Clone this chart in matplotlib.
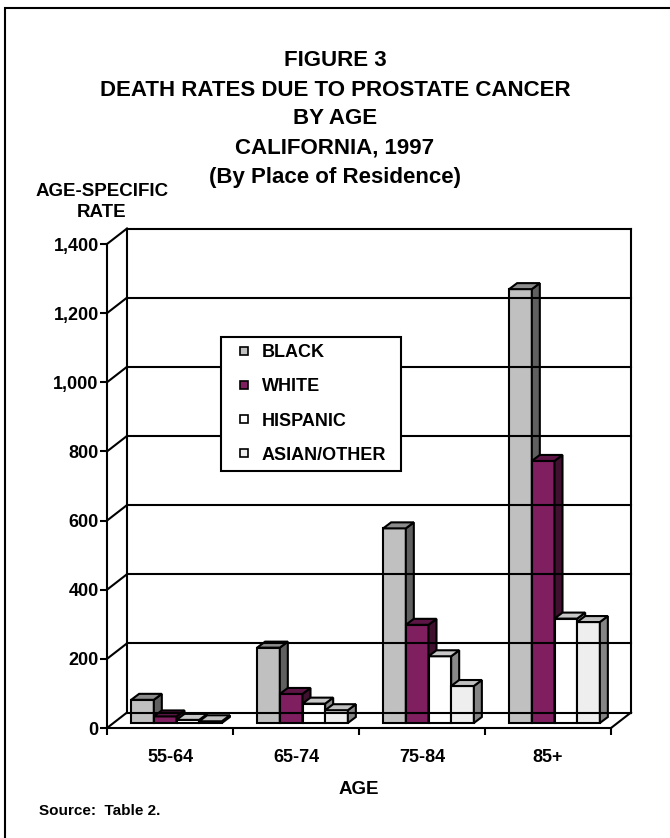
import matplotlib
matplotlib.use('Agg')
import matplotlib.pyplot as plt
from matplotlib.patches import Polygon, Rectangle
from matplotlib.lines import Line2D
from matplotlib.transforms import IdentityTransform, Affine2D

plt.rcParams['font.family'] = ['Liberation Sans', 'DejaVu Sans']
plt.rcParams['font.weight'] = 'bold'

# data
ages = ['55-64', '65-74', '75-84', '85+']
groups = ['BLACK', 'WHITE', 'HISPANIC', 'ASIAN/OTHER']
black = [67, 218, 563, 1255]
white = [19, 84, 284, 758]
hispanic = [9, 56, 193, 302]
asian_other = [5, 37, 107, 292]
yticks = [0, 200, 400, 600, 800, 1000, 1200, 1400]
title_lines = ['FIGURE 3', 'DEATH RATES DUE TO PROSTATE CANCER', 'BY AGE',
               'CALIFORNIA, 1997', '(By Place of Residence)']

series = [black, white, hispanic, asian_other]
face = ['#c0c0c0', '#7f1f5f', '#ffffff', '#eeeeee']
top = ['#8c8c8c', '#5c1545', '#c8c8c8', '#c0c0c0']
side = ['#606060', '#40102f', '#8a8a8a', '#858585']

W, H = 670, 838
fig = plt.figure(figsize=(W / 100, H / 100), dpi=100)
ax = fig.add_axes([107 / W, 110 / H, 504 / W, 484 / H])
ax.set_xlim(0, 4)
ax.set_ylim(0, 1400)
ax.set_autoscale_on(False)
ax.patch.set_visible(False)
for s in ['top', 'right']:
    ax.spines[s].set_visible(False)
for s in ['left', 'bottom']:
    ax.spines[s].set_linewidth(1.5)

ax.set_yticks(yticks)
ax.set_yticklabels([f'{v:,}' for v in yticks])
ax.tick_params(axis='y', length=5, width=1.5, pad=1, labelsize=13)
ax.set_xticks(range(5))
ax.set_xticklabels([])
ax.set_xticks([i + 0.5 for i in range(4)], minor=True)
ax.set_xticklabels(ages, minor=True)
ax.tick_params(axis='x', which='major', length=5, width=1.5)
ax.tick_params(axis='x', which='minor', length=0, pad=15, labelsize=13)
ax.set_xlabel('AGE', fontsize=13.5, fontweight='bold', labelpad=11)

# pixel offsets for the fake 3d depth
DX, DY = 20, 15.5   # floor depth
BX, BY = 6.5, 5     # bar front plane
PX, PY = 8, 6       # bar depth
w = 0.18


def pt(x, v, ox=0, oy=0):
    X, Y = ax.transData.transform((x, v))
    return (X + ox, Y + oy)


def seg(a, b):
    ax.add_line(Line2D([a[0], b[0]], [a[1], b[1]], transform=IdentityTransform(),
                       color='black', lw=1.5, clip_on=False, solid_capstyle='projecting'))


# walls and gridlines
for v in yticks:
    seg(pt(0, v, DX, DY), pt(4, v, DX, DY))
    seg(pt(0, v), pt(0, v, DX, DY))
seg(pt(0, 0, DX, DY), pt(0, 1400, DX, DY))
seg(pt(4, 0, DX, DY), pt(4, 1400, DX, DY))
seg(pt(4, 0), pt(4, 0, DX, DY))

# bars, left to right
shift = Affine2D().translate(BX, BY)
for i in range(4):
    for j in range(4):
        v = series[j][i]
        x0 = i + 0.5 - 2 * w + j * w
        ax.bar(x0, v, width=w, align='edge', color=face[j], edgecolor='black',
               linewidth=1.5, transform=ax.transData + shift, clip_on=False)
        sd = [pt(x0 + w, 0, BX, BY), pt(x0 + w, 0, BX + PX, BY + PY),
              pt(x0 + w, v, BX + PX, BY + PY), pt(x0 + w, v, BX, BY)]
        tp = [pt(x0, v, BX, BY), pt(x0 + w, v, BX, BY),
              pt(x0 + w, v, BX + PX, BY + PY), pt(x0, v, BX + PX, BY + PY)]
        for poly, col in [(sd, side[j]), (tp, top[j])]:
            ax.add_patch(Polygon(poly, closed=True, facecolor=col, edgecolor='black',
                                 lw=1.5, transform=IdentityTransform(), clip_on=False,
                                 joinstyle='miter'))

handles = [Line2D([], [], ls='none', marker='s', markersize=5.5, markerfacecolor=face[j],
                  markeredgecolor='black', markeredgewidth=1.2) for j in range(4)]
leg = fig.legend(handles, groups, loc='upper left',
                 bbox_to_anchor=(221 / W, 1 - 469 / H, 180 / W, 132 / H), mode='expand',
                 fontsize=13, frameon=True, fancybox=False, framealpha=1,
                 edgecolor='black', borderaxespad=0, borderpad=0.4,
                 labelspacing=0.95, handlelength=1.8, handletextpad=0.05)
leg.get_frame().set_linewidth(1.5)

for k, line in enumerate(title_lines):
    fig.text(335 / W, 1 - (61 + 29 * k) / H, line, ha='center', va='center', fontsize=16)

fig.text(102 / W, 1 - 202 / H, 'AGE-SPECIFIC\nRATE', ha='center', va='center',
         fontsize=13.5, linespacing=1.25, multialignment='center')
fig.text(39 / W, 1 - 811 / H, 'Source:  Table 2.', va='center', fontsize=11)

fig.add_artist(Rectangle((5 / W, -0.05), 1.2, 1 - 8 / H + 0.05, transform=fig.transFigure,
                         fill=False, lw=1.5, edgecolor='black'))

fig.savefig('out.png', dpi=100)
